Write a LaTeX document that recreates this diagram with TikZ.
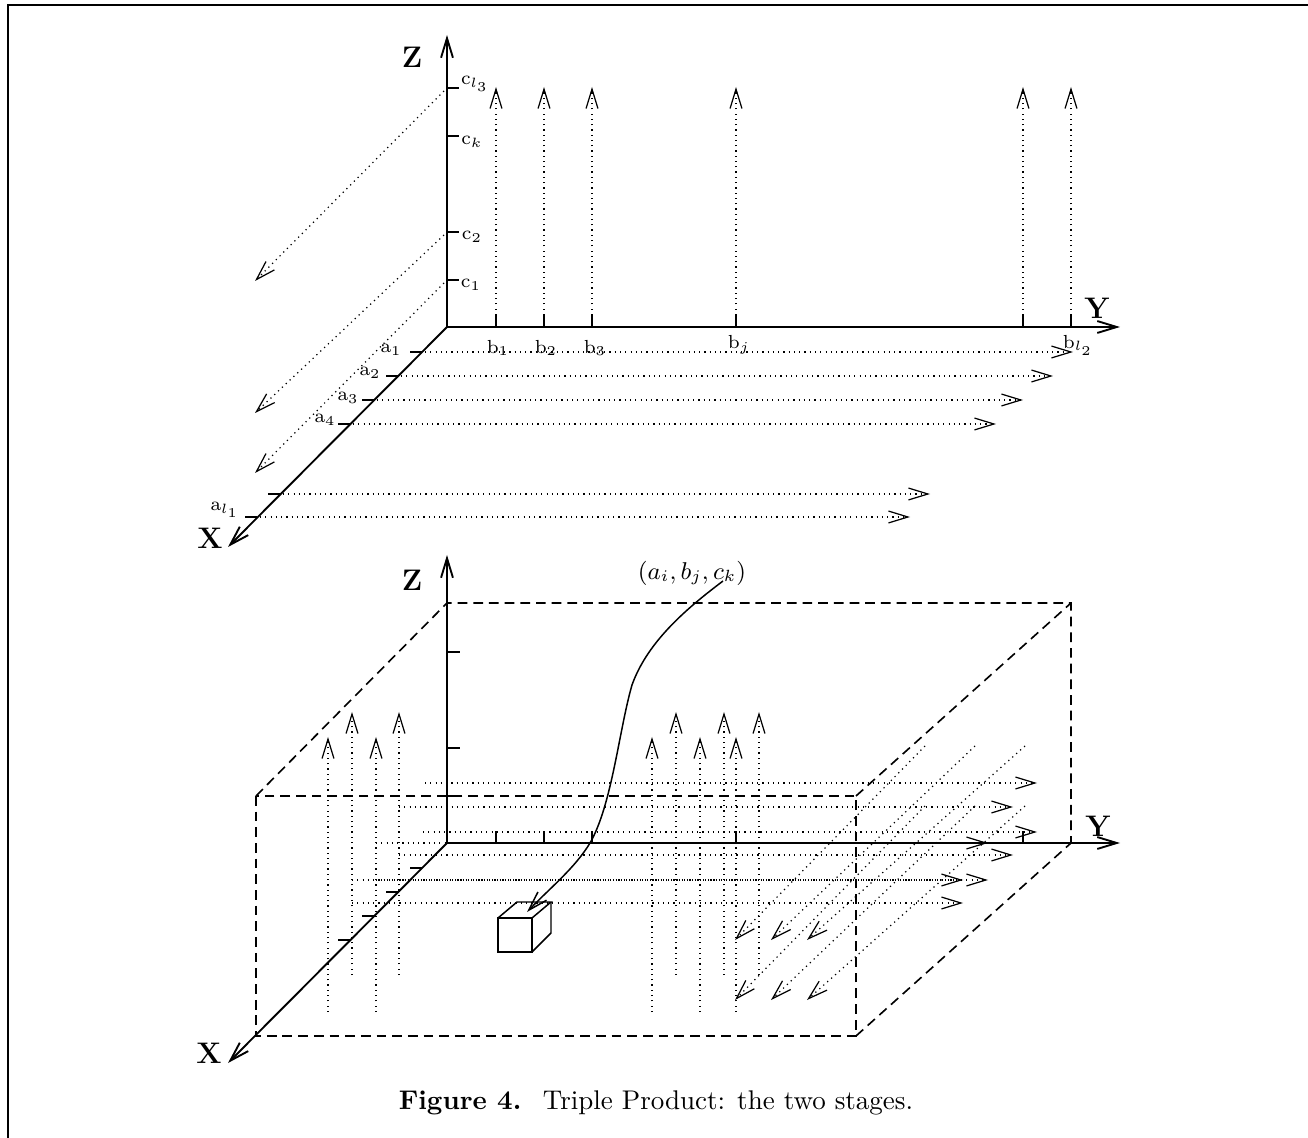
\documentclass[tikz,border=0pt]{standalone}
\usepackage{amsmath}
\usetikzlibrary{arrows.meta}

\begin{document}
\begin{tikzpicture}[
  x=0.37pt, y=-0.37pt,
  >={Straight Barb[length=7.2pt,width=4.4pt]},
  % axes and their ticks
  axisline/.style={line width=0.7pt, ->},
  tickline/.style={line width=0.7pt},
  % dotted guides
  guide/.style={line width=0.45pt, dash pattern=on 0.45pt off 1.5pt, ->},
  % dashed box of the second stage
  boxedge/.style={line width=0.6pt, dash pattern=on 3.6pt off 2.2pt},
  % labels
  axislabel/.style={font=\fontsize{11}{13}\selectfont\bfseries},
  ticklabel/.style={font=\fontsize{7.5}{9}\selectfont, inner sep=0pt}
]
\useasboundingbox (0,0) rectangle (1308,1138);

% === FRAME ===
\draw[line width=0.8pt] (1308,5) -- (8,5) -- (8,1138);

% === FIRST STAGE: AXES ===
\coordinate (o1) at (447,327);
\coordinate (ztop1) at (447,35);
\coordinate (yend1) at (1120,327);
\coordinate (xend1) at (228,547);
\draw[axisline] (o1) -- (ztop1);
\draw[axisline] (o1) -- (yend1);
\draw[axisline] (o1) -- (xend1);
\node[axislabel] (zlab1) at (412,57) {Z};
\node[axislabel] (ylab1) at (1097,308) {Y};
\node[axislabel] (xlab1) at (210,538) {X};

% ticks on Z
\draw[tickline] (447,88) -- (459,88);
\draw[tickline] (447,136) -- (459,136);
\draw[tickline] (447,232) -- (459,232);
\draw[tickline] (447,280) -- (459,280);
\node[ticklabel] (cl3) at (475,84) {$\mathrm{c}_{l_3}$};
\node[ticklabel] (ck) at (472,142) {$\mathrm{c}_k$};
\node[ticklabel] (c2) at (472,237) {$\mathrm{c}_2$};
\node[ticklabel] (c1) at (471,285) {$\mathrm{c}_1$};

% ticks on Y
\draw[tickline] (496,327) -- (496,315);
\draw[tickline] (544,327) -- (544,315);
\draw[tickline] (592,327) -- (592,315);
\draw[tickline] (736,327) -- (736,315);
\draw[tickline] (1023,327) -- (1023,315);
\draw[tickline] (1071,327) -- (1071,315);
\node[ticklabel] (b1) at (498,348) {$\mathrm{b}_1$};
\node[ticklabel] (b2) at (546,348) {$\mathrm{b}_2$};
\node[ticklabel] (b3) at (595,348) {$\mathrm{b}_3$};
\node[ticklabel] (bj) at (739,345) {$\mathrm{b}_j$};
\node[ticklabel] (bl2) at (1078,345) {$\mathrm{b}_{l_2}$};

% ticks on X
\draw[tickline] (410,352) -- (422,352);
\draw[tickline] (386,376) -- (398,376);
\draw[tickline] (362,400) -- (374,400);
\draw[tickline] (338,424) -- (350,424);
\draw[tickline] (268,494) -- (280,494);
\draw[tickline] (245,517) -- (257,517);
\node[ticklabel] (a1) at (391,350) {$\mathrm{a}_1$};
\node[ticklabel] (a2) at (370,373) {$\mathrm{a}_2$};
\node[ticklabel] (a3) at (348,398) {$\mathrm{a}_3$};
\node[ticklabel] (a4) at (325,420) {$\mathrm{a}_4$};
\node[ticklabel] (al1) at (225,510) {$\mathrm{a}_{l_1}$};

% guides along Z
\draw[guide] (496,315) -- (496,87);
\draw[guide] (544,315) -- (544,87);
\draw[guide] (592,315) -- (592,87);
\draw[guide] (736,315) -- (736,87);
\draw[guide] (1023,315) -- (1023,87);
\draw[guide] (1071,315) -- (1071,87);

% guides along Y
\draw[guide] (425,352) -- (1073,352);
\draw[guide] (401,376) -- (1053,376);
\draw[guide] (377,400) -- (1023,400);
\draw[guide] (353,424) -- (996,424);
\draw[guide] (283,494) -- (930,494);
\draw[guide] (260,517) -- (910,517);

% guides along X
\draw[guide] (444,91) -- (255,281);
\draw[guide] (444,235) -- (255,413);
\draw[guide] (444,283) -- (255,473);

% === SECOND STAGE: AXES ===
\coordinate (o2) at (447,843);
\coordinate (ztop2) at (447,555);
\coordinate (yend2) at (1120,843);
\coordinate (xend2) at (228,1063);
\draw[axisline] (o2) -- (ztop2);
\draw[axisline] (o2) -- (yend2);
\draw[axisline] (o2) -- (xend2);
\node[axislabel] (zlab2) at (412,580) {Z};
\node[axislabel] (ylab2) at (1098,826) {Y};
\node[axislabel] (xlab2) at (209,1053) {X};

\draw[tickline] (447,652) -- (460,652);
\draw[tickline] (447,748) -- (460,748);
\draw[tickline] (447,796) -- (460,796);
\draw[tickline] (496,843) -- (496,831);
\draw[tickline] (544,843) -- (544,831);
\draw[tickline] (592,843) -- (592,831);
\draw[tickline] (736,843) -- (736,831);
\draw[tickline] (1023,843) -- (1023,831);
\draw[tickline] (410,868) -- (422,868);
\draw[tickline] (386,892) -- (398,892);
\draw[tickline] (362,916) -- (374,916);
\draw[tickline] (338,940) -- (350,940);

% dashed box
\draw[boxedge] (256,796) rectangle (856,1036);
\draw[boxedge] (256,796) -- (447,603) -- (1071,603) -- (1071,843);
\draw[boxedge] (856,796) -- (1071,603);
\draw[boxedge] (856,1036) -- (1071,843);

% guides along Z
\draw[guide] (328,1012) -- (328,737);
\draw[guide] (352,975) -- (352,712);
\draw[guide] (376,1012) -- (376,737);
\draw[guide] (399,975) -- (399,712);
\draw[guide] (652,1012) -- (652,737);
\draw[guide] (676,975) -- (676,712);
\draw[guide] (700,1012) -- (700,737);
\draw[guide] (724,975) -- (724,712);
\draw[guide] (736,1012) -- (736,737);
\draw[guide] (759,975) -- (759,712);

% guides along Y
\draw[guide] (425,783) -- (1037,783);
\draw[guide] (399,807) -- (1013,807);
\draw[guide] (423,832) -- (1037,832);
\draw[guide] (376,843) -- (988,843);
\draw[guide] (399,855) -- (1013,855);
\draw[guide] (352,880) -- (963,880);
\draw[guide] (376,880) -- (988,880);
\draw[guide] (352,903) -- (963,903);

% guides along X
\draw[guide] (925,746) -- (735,940);
\draw[guide] (975,746) -- (771,940);
\draw[guide] (1025,746) -- (807,940);
\draw[guide] (925,806) -- (735,1000);
\draw[guide] (975,806) -- (771,1000);
\draw[guide] (1025,806) -- (807,1000);

% the cell (a_i, b_j, c_k)
\draw[line width=0.55pt] (498,918) rectangle (532,952);
\draw[line width=0.55pt] (498,918) -- (517,902) -- (551,902) -- (532,918);
\draw[line width=0.55pt] (551,902) -- (551,933) -- (532,952);
\coordinate (celltop) at (527,912);
\node[font=\fontsize{8.7}{10}\selectfont] (cell) at (692,573) {$(a_i, b_j, c_k)$};
\coordinate (cellfrom) at (723,581);
\draw[line width=0.55pt, ->] (cellfrom) .. controls (690,606) and (648,640) .. (632,685)
  .. controls (619,730) and (612,805) .. (590,843)
  .. controls (575,868) and (550,888) .. (celltop);

% === CAPTION ===
\node (caption) at (656,1103) {\textbf{Figure 4.}\hspace{8pt}Triple Product: the two stages.};

\end{tikzpicture}
\end{document}
